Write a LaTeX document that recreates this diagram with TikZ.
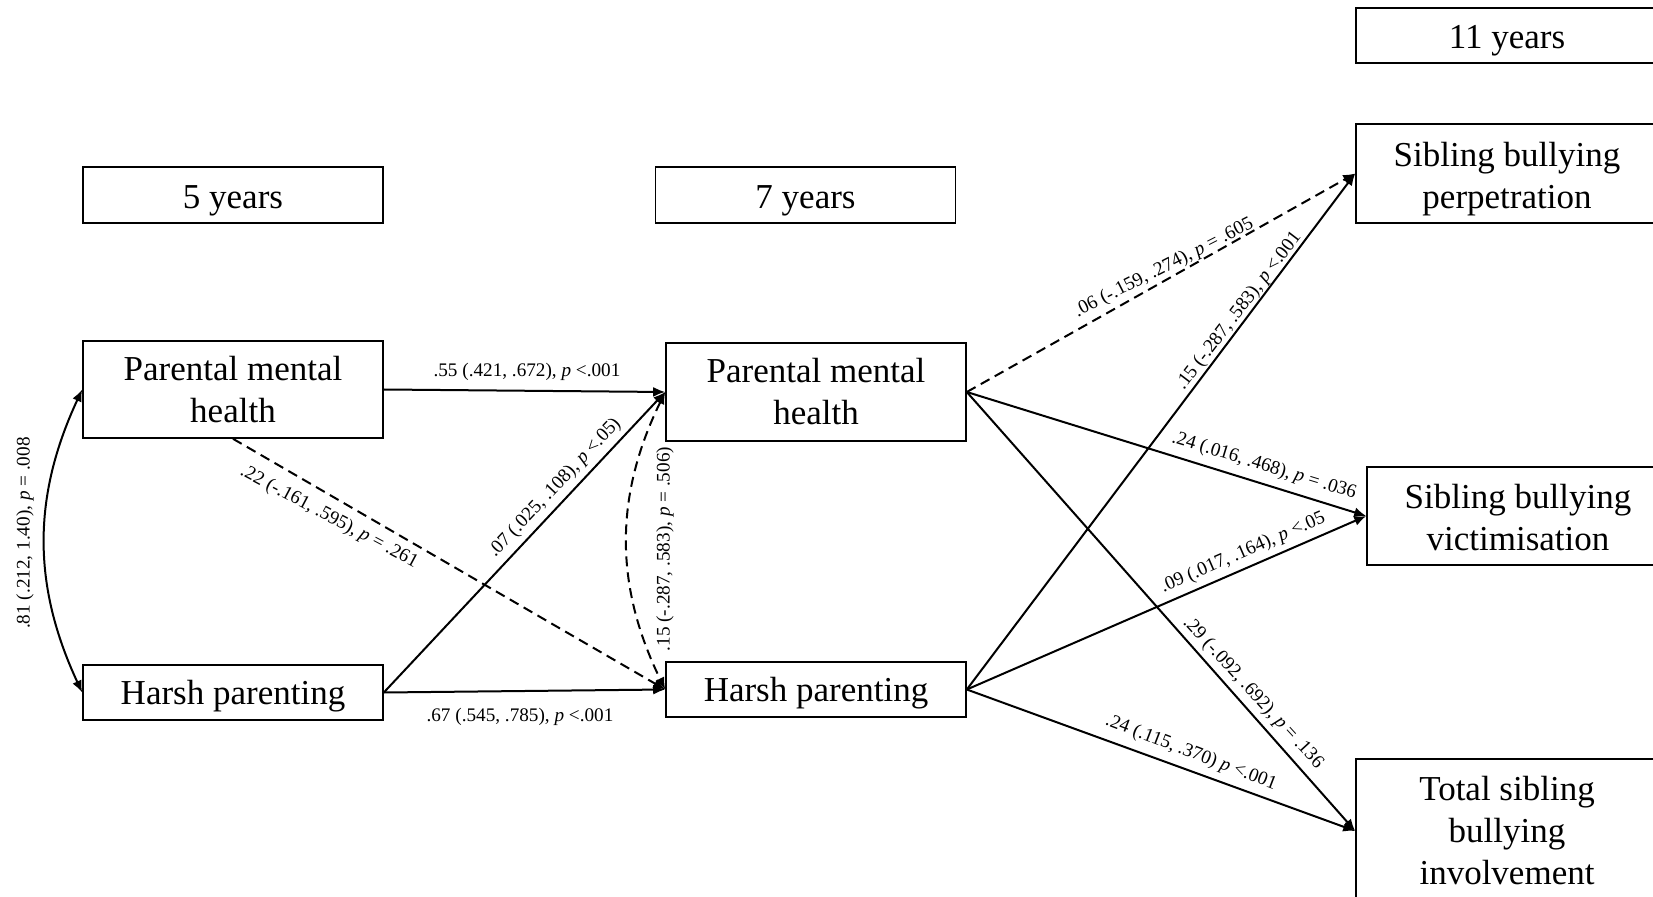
\documentclass[tikz,border=0pt]{standalone}
\usepackage{fontspec}
\setmainfont{Liberation Serif}
\usetikzlibrary{arrows.meta}
\newcommand\tstrut[1]{\rule{0pt}{#1}}
\begin{document}
\begin{tikzpicture}[x=0.5pt,y=-0.5pt,
  box/.style={draw, line width=0.8pt, font=\fontsize{17.5}{21}\selectfont, align=center, inner sep=0pt},
  lbl/.style={font=\fontsize{9.6}{11}\selectfont, inner sep=0pt},
  conn/.style={line width=1pt, -{Latex[length=6pt,width=5pt]}},
  dconn/.style={conn, dash pattern=on 5pt off 3pt},
  dbl/.style={line width=1pt, {Latex[length=6pt,width=5pt]}-{Latex[length=6pt,width=5pt]}},
  ]
\clip (0,0) rectangle (1653,897);
% time headers
\node[box, minimum width=150pt, minimum height=28pt] (y5) at (233,195) {\tstrut{17pt}5 years};
\node[box, minimum width=150pt, minimum height=28pt] (y7) at (805.5,195) {\tstrut{17pt}7 years};
\node[box, minimum width=151pt, minimum height=27.5pt] (y11) at (1507,35.5) {\tstrut{17pt}11 years};
% variables
\node[box, minimum width=150pt, minimum height=48.5pt] (pmh5) at (233,389.5) {Parental mental\\health};
\node[box, minimum width=150pt, minimum height=27.5pt] (hp5) at (233,692.5) {\tstrut{16pt}Harsh parenting};
\node[box, minimum width=150pt, minimum height=49pt] (pmh7) at (816,392) {Parental mental\\health};
\node[box, minimum width=150pt, minimum height=27.5pt] (hp7) at (816,689.5) {\tstrut{16pt}Harsh parenting};
\node[box, minimum width=151pt, minimum height=49.5pt] (sbp) at (1507,173.5) {\tstrut{18pt}Sibling bullying\\perpetration};
\node[box, minimum width=151pt, minimum height=49pt] (sbv) at (1518,516) {\tstrut{14pt}Sibling bullying\\victimisation};
\node[box, minimum width=151pt, minimum height=72pt] (tot) at (1507,831) {Total sibling\\bullying\\involvement};
% connectors
\draw[dbl] (pmh5.west) to[bend right=25] (hp5.west);
\draw[conn] (pmh5.east) -- (pmh7.west);
\draw[conn] (hp5.east) -- (hp7.west);
\draw[conn] (hp5.east) -- (pmh7.west);
\draw[dconn] (pmh5.south) -- (hp7.west);
\draw[dbl, dash pattern=on 5pt off 3pt] (pmh7.west) to[bend right=26] (hp7.west);
\draw[dconn] (pmh7.east) -- (sbp.west);
\draw[conn] (hp7.east) -- (sbp.west);
\draw[conn] (pmh7.east) -- (sbv.west);
\draw[conn] (hp7.east) -- (sbv.west);
\draw[conn] (pmh7.east) -- (tot.west);
\draw[conn] (hp7.east) -- (tot.west);
% labels
\node[lbl, rotate=90] (l81) at (25,533) {.81 (.212, 1.40), \textit{p} = .008};
\node[lbl] (l55) at (527,372) {.55 (.421, .672), \textit{p} <.001};
\node[lbl] (l67) at (520,717) {.67 (.545, .785), \textit{p} <.001};
\node[lbl, rotate=46.7] (l07) at (555,488) {.07 (.025, .108), \textit{p} <.05)};
\node[lbl, rotate=-28] (l22) at (329,517) {.22 (-.161, .595), \textit{p} = .261};
\node[lbl, rotate=90] (l15a) at (665,549) {.15 (-.287, .583), \textit{p} = .506)};
\node[lbl, rotate=27] (l06) at (1164,268) {.06 (-.159, .274), \textit{p} = .605};
\node[lbl, rotate=52.5] (l15b) at (1239,311) {.15 (-.287, .583), \textit{p} <.001};
\node[lbl, rotate=-17] (l24a) at (1264,466) {.24 (.016, .468), \textit{p} = .036};
\node[lbl, rotate=23.5] (l09) at (1243,553) {.09 (.017, .164), \textit{p} <.05};
\node[lbl, rotate=-47.5] (l29) at (1253,693) {.29 (-.092, .692), \textit{p} = .136};
\node[lbl, rotate=-21] (l24b) at (1191,753) {.24 (.115, .370) \textit{p} <.001};
\end{tikzpicture}
\end{document}
